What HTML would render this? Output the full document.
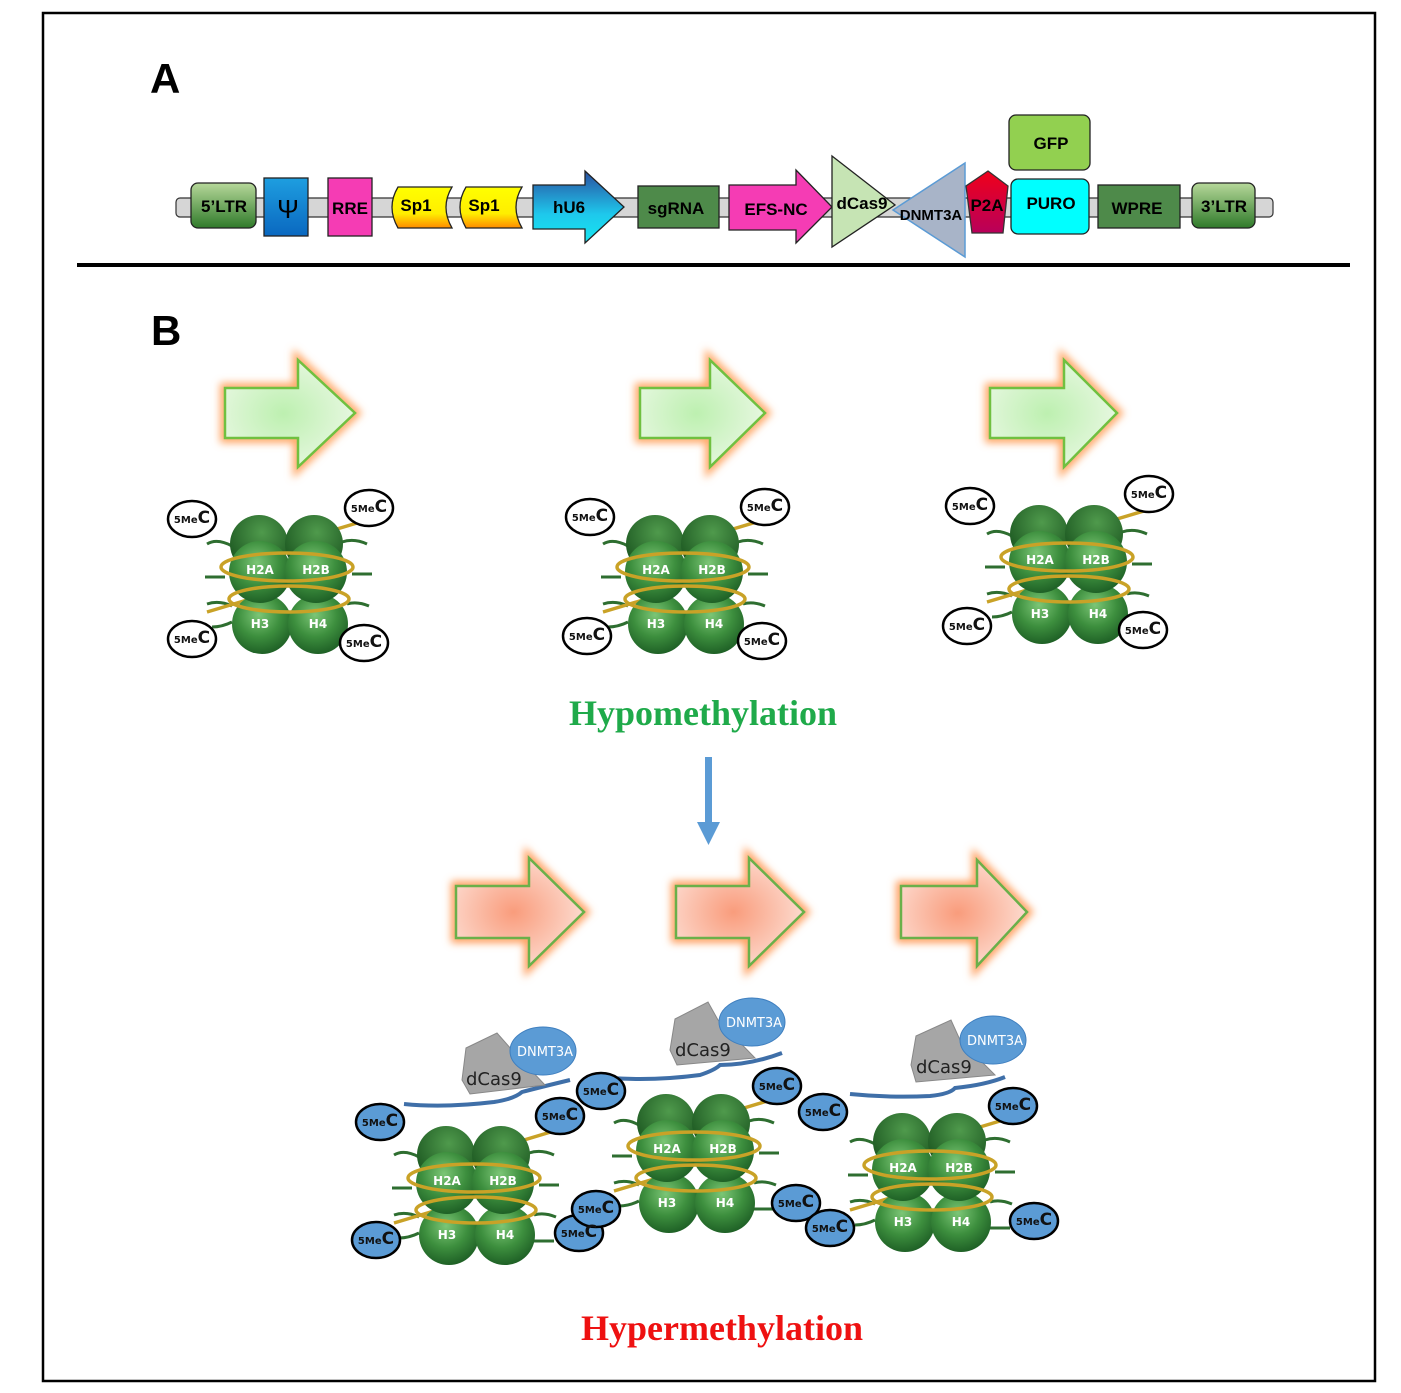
<!DOCTYPE html>
<html><head><meta charset="utf-8"><style>
html,body{margin:0;padding:0;background:#fff}
svg{display:block}
</style></head><body>
<svg width="1401" height="1393" viewBox="0 0 1401 1393" xmlns="http://www.w3.org/2000/svg" font-family="Liberation Sans, sans-serif">
<defs>
<radialGradient id="sph" cx="0.45" cy="0.35" r="0.65"><stop offset="0" stop-color="#7cc676"/><stop offset="0.55" stop-color="#3d8f3e"/><stop offset="1" stop-color="#1f6126"/></radialGradient>
<radialGradient id="sphd" cx="0.55" cy="0.3" r="0.7"><stop offset="0" stop-color="#4f9a4c"/><stop offset="1" stop-color="#1b5620"/></radialGradient>
<radialGradient id="ga" cx="0.45" cy="0.5" r="0.6"><stop offset="0" stop-color="#bdf0b0"/><stop offset="1" stop-color="#eaf8e4"/></radialGradient>
<radialGradient id="ra" cx="0.45" cy="0.5" r="0.6"><stop offset="0" stop-color="#f99c7c"/><stop offset="1" stop-color="#fde0d6"/></radialGradient>
<filter id="glow" x="-30%" y="-30%" width="160%" height="160%"><feGaussianBlur stdDeviation="4"/></filter>
<linearGradient id="ltr" x1="0" y1="0" x2="0" y2="1"><stop offset="0" stop-color="#b6d89a"/><stop offset="1" stop-color="#2f7a2a"/></linearGradient>
<linearGradient id="psi" x1="0" y1="0" x2="0" y2="1"><stop offset="0" stop-color="#1e9ee0"/><stop offset="1" stop-color="#0a68c0"/></linearGradient>
<linearGradient id="sp" x1="0" y1="0" x2="0" y2="1"><stop offset="0" stop-color="#ffff00"/><stop offset="0.65" stop-color="#ffee00"/><stop offset="1" stop-color="#ff8a00"/></linearGradient>
<linearGradient id="hu6" x1="0" y1="0" x2="0" y2="1"><stop offset="0" stop-color="#2a4fa0"/><stop offset="0.6" stop-color="#1ec8ec"/><stop offset="1" stop-color="#16e6f0"/></linearGradient>
<linearGradient id="p2a" x1="0" y1="0" x2="0" y2="1"><stop offset="0" stop-color="#f0001a"/><stop offset="1" stop-color="#b8005a"/></linearGradient>
</defs>

<rect x="43" y="13" width="1332" height="1368" fill="none" stroke="#000" stroke-width="2.5"/>
<text x="150" y="93" font-size="42" font-weight="bold">A</text>
<text x="151" y="345" font-size="42" font-weight="bold">B</text>
<line x1="77" y1="265" x2="1350" y2="265" stroke="#000" stroke-width="4"/>

<rect x="176" y="198" width="1097" height="19" rx="4" fill="#d6d6d6" stroke="#333" stroke-width="1.2"/>
<g font-weight="bold" font-size="17" text-anchor="middle" stroke-width="1.3">
<rect x="191" y="183" width="65" height="45" rx="7" fill="url(#ltr)" stroke="#222"/><text x="224" y="212">5’LTR</text>
<rect x="264" y="178" width="44" height="58" fill="url(#psi)" stroke="#222"/><text x="288" y="218" font-size="26" font-weight="normal">Ψ</text>
<rect x="328" y="178" width="44" height="58" fill="#f53cb4" stroke="#222"/><text x="350" y="214">RRE</text>
<path d="M398,187 H452 Q440,207 452,228 H398 Q386,207 398,187Z" fill="url(#sp)" stroke="#222"/><text x="416" y="211">Sp1</text>
<path d="M466,187 H522 Q510,207 522,228 H466 Q454,207 466,187Z" fill="url(#sp)" stroke="#222"/><text x="484" y="211">Sp1</text>
<path d="M533,185 H585 V171 L624,207 L585,243 V229 H533Z" fill="url(#hu6)" stroke="#222"/><text x="569" y="213">hU6</text>
<rect x="638" y="186" width="81" height="42" fill="#4e8a4a" stroke="#222"/><text x="676" y="214">sgRNA</text>
<path d="M729,185 H796 V170 L832,207 L796,243 V230 H729Z" fill="#f53cb4" stroke="#222"/><text x="776" y="215">EFS-NC</text>
<path d="M832,156 L895,205 L832,247Z" fill="#c6e4b4" stroke="#222"/><text x="862" y="209">dCas9</text>
<path d="M965,163 L893,210 L965,257Z" fill="#a8b4c8" stroke="#5b9bd5" stroke-width="1.5"/><text x="931" y="220" font-size="15">DNMT3A</text>
<path d="M988,171 L1008,186 L1003,233 L972,233 L966,186Z" fill="url(#p2a)" stroke="#333"/><text x="987" y="211">P2A</text>
<rect x="1011" y="179" width="78" height="55" rx="7" fill="#00ffff" stroke="#222"/><text x="1051" y="209">PURO</text>
<rect x="1009" y="115" width="81" height="55" rx="7" fill="#92d050" stroke="#222"/><text x="1051" y="149">GFP</text>
<rect x="1098" y="185" width="82" height="43" fill="#4e8a4a" stroke="#222"/><text x="1137" y="214">WPRE</text>
<rect x="1192" y="183" width="63" height="45" rx="7" fill="url(#ltr)" stroke="#222"/><text x="1224" y="212">3’LTR</text>
</g>

<g>
<path d="M225,388 H298 V360 L355,413 L298,467 V438 H225Z" fill="none" stroke="#ffa868" stroke-width="10" filter="url(#glow)"/>
<path d="M225,388 H298 V360 L355,413 L298,467 V438 H225Z" fill="url(#ga)" stroke="#70c040" stroke-width="2.5"/>
<path d="M640,388 H710 V360 L765,413 L710,467 V438 H640Z" fill="none" stroke="#ffa868" stroke-width="10" filter="url(#glow)"/>
<path d="M640,388 H710 V360 L765,413 L710,467 V438 H640Z" fill="url(#ga)" stroke="#70c040" stroke-width="2.5"/>
<path d="M990,388 H1064 V360 L1117,413 L1064,467 V438 H990Z" fill="none" stroke="#ffa868" stroke-width="10" filter="url(#glow)"/>
<path d="M990,388 H1064 V360 L1117,413 L1064,467 V438 H990Z" fill="url(#ga)" stroke="#70c040" stroke-width="2.5"/>
</g>
<g>
<path d="M456,886 H529 V858 L584,912 L529,966 V938 H456Z" fill="none" stroke="#ffa060" stroke-width="10" filter="url(#glow)"/>
<path d="M456,886 H529 V858 L584,912 L529,966 V938 H456Z" fill="url(#ra)" stroke="#6ab04a" stroke-width="2.5"/>
<path d="M676,886 H749 V858 L804,912 L749,966 V938 H676Z" fill="none" stroke="#ffa060" stroke-width="10" filter="url(#glow)"/>
<path d="M676,886 H749 V858 L804,912 L749,966 V938 H676Z" fill="url(#ra)" stroke="#6ab04a" stroke-width="2.5"/>
<path d="M901,886 H977 V860 L1027,912 L977,966 V938 H901Z" fill="none" stroke="#ffa060" stroke-width="10" filter="url(#glow)"/>
<path d="M901,886 H977 V860 L1027,912 L977,966 V938 H901Z" fill="url(#ra)" stroke="#6ab04a" stroke-width="2.5"/>
</g>

<text x="703" y="725" font-family="Liberation Serif, serif" font-size="36" font-weight="bold" fill="#1faa4a" text-anchor="middle">Hypomethylation</text>
<text x="722" y="1340" font-family="Liberation Serif, serif" font-size="36" font-weight="bold" fill="#ee1111" text-anchor="middle">Hypermethylation</text>
<rect x="705" y="757" width="7" height="66" fill="#5b9bd5"/>
<path d="M697,822 H720 L708.5,845Z" fill="#5b9bd5"/>

<g font-family="DejaVu Sans, sans-serif" font-weight="bold" font-size="12" fill="#fff" text-anchor="middle">
<g transform="translate(287,582)">
<path d="M-80,-38 q10,-6 25,2 M55,-40 q12,-4 25,2 M-82,-5 h20 M65,-8 h20 M-80,22 q12,-4 25,2 M60,22 q10,-3 22,2 M-75,45 q10,0 20,-5 M60,48 h20" stroke="#2e6e30" stroke-width="3" fill="none"/>
<path d="M-80,30 L-40,18 M40,-50 L80,-62" stroke="#c9a227" stroke-width="3.5"/>
<circle cx="-28" cy="-38" r="29" fill="url(#sphd)"/><circle cx="27" cy="-38" r="29" fill="url(#sphd)"/>
<circle cx="-25" cy="42" r="30" fill="url(#sph)"/><circle cx="31" cy="42" r="30" fill="url(#sph)"/>
<circle cx="-27" cy="-10" r="31" fill="url(#sph)"/><circle cx="29" cy="-10" r="31" fill="url(#sph)"/>
<ellipse cx="0" cy="-15" rx="66" ry="14" fill="none" stroke="#c9a227" stroke-width="3.5"/>
<ellipse cx="2" cy="17" rx="60" ry="13" fill="none" stroke="#c9a227" stroke-width="3.5"/>
<text x="-27" y="-8">H2A</text><text x="29" y="-8">H2B</text><text x="-27" y="46">H3</text><text x="31" y="46">H4</text>
</g>
<g transform="translate(683,582)">
<path d="M-80,-38 q10,-6 25,2 M55,-40 q12,-4 25,2 M-82,-5 h20 M65,-8 h20 M-80,22 q12,-4 25,2 M60,22 q10,-3 22,2 M-75,45 q10,0 20,-5 M60,48 h20" stroke="#2e6e30" stroke-width="3" fill="none"/>
<path d="M-80,30 L-40,18 M40,-50 L80,-62" stroke="#c9a227" stroke-width="3.5"/>
<circle cx="-28" cy="-38" r="29" fill="url(#sphd)"/><circle cx="27" cy="-38" r="29" fill="url(#sphd)"/>
<circle cx="-25" cy="42" r="30" fill="url(#sph)"/><circle cx="31" cy="42" r="30" fill="url(#sph)"/>
<circle cx="-27" cy="-10" r="31" fill="url(#sph)"/><circle cx="29" cy="-10" r="31" fill="url(#sph)"/>
<ellipse cx="0" cy="-15" rx="66" ry="14" fill="none" stroke="#c9a227" stroke-width="3.5"/>
<ellipse cx="2" cy="17" rx="60" ry="13" fill="none" stroke="#c9a227" stroke-width="3.5"/>
<text x="-27" y="-8">H2A</text><text x="29" y="-8">H2B</text><text x="-27" y="46">H3</text><text x="31" y="46">H4</text>
</g>
<g transform="translate(1067,572)">
<path d="M-80,-38 q10,-6 25,2 M55,-40 q12,-4 25,2 M-82,-5 h20 M65,-8 h20 M-80,22 q12,-4 25,2 M60,22 q10,-3 22,2 M-75,45 q10,0 20,-5 M60,48 h20" stroke="#2e6e30" stroke-width="3" fill="none"/>
<path d="M-80,30 L-40,18 M40,-50 L80,-62" stroke="#c9a227" stroke-width="3.5"/>
<circle cx="-28" cy="-38" r="29" fill="url(#sphd)"/><circle cx="27" cy="-38" r="29" fill="url(#sphd)"/>
<circle cx="-25" cy="42" r="30" fill="url(#sph)"/><circle cx="31" cy="42" r="30" fill="url(#sph)"/>
<circle cx="-27" cy="-10" r="31" fill="url(#sph)"/><circle cx="29" cy="-10" r="31" fill="url(#sph)"/>
<ellipse cx="0" cy="-15" rx="66" ry="14" fill="none" stroke="#c9a227" stroke-width="3.5"/>
<ellipse cx="2" cy="17" rx="60" ry="13" fill="none" stroke="#c9a227" stroke-width="3.5"/>
<text x="-27" y="-8">H2A</text><text x="29" y="-8">H2B</text><text x="-27" y="46">H3</text><text x="31" y="46">H4</text>
</g>
<g transform="translate(474,1193)">
<path d="M-80,-38 q10,-6 25,2 M55,-40 q12,-4 25,2 M-82,-5 h20 M65,-8 h20 M-80,22 q12,-4 25,2 M60,22 q10,-3 22,2 M-75,45 q10,0 20,-5 M60,48 h20" stroke="#2e6e30" stroke-width="3" fill="none"/>
<path d="M-80,30 L-40,18 M40,-50 L80,-62" stroke="#c9a227" stroke-width="3.5"/>
<circle cx="-28" cy="-38" r="29" fill="url(#sphd)"/><circle cx="27" cy="-38" r="29" fill="url(#sphd)"/>
<circle cx="-25" cy="42" r="30" fill="url(#sph)"/><circle cx="31" cy="42" r="30" fill="url(#sph)"/>
<circle cx="-27" cy="-10" r="31" fill="url(#sph)"/><circle cx="29" cy="-10" r="31" fill="url(#sph)"/>
<ellipse cx="0" cy="-15" rx="66" ry="14" fill="none" stroke="#c9a227" stroke-width="3.5"/>
<ellipse cx="2" cy="17" rx="60" ry="13" fill="none" stroke="#c9a227" stroke-width="3.5"/>
<text x="-27" y="-8">H2A</text><text x="29" y="-8">H2B</text><text x="-27" y="46">H3</text><text x="31" y="46">H4</text>
</g>
<g transform="translate(694,1161)">
<path d="M-80,-38 q10,-6 25,2 M55,-40 q12,-4 25,2 M-82,-5 h20 M65,-8 h20 M-80,22 q12,-4 25,2 M60,22 q10,-3 22,2 M-75,45 q10,0 20,-5 M60,48 h20" stroke="#2e6e30" stroke-width="3" fill="none"/>
<path d="M-80,30 L-40,18 M40,-50 L80,-62" stroke="#c9a227" stroke-width="3.5"/>
<circle cx="-28" cy="-38" r="29" fill="url(#sphd)"/><circle cx="27" cy="-38" r="29" fill="url(#sphd)"/>
<circle cx="-25" cy="42" r="30" fill="url(#sph)"/><circle cx="31" cy="42" r="30" fill="url(#sph)"/>
<circle cx="-27" cy="-10" r="31" fill="url(#sph)"/><circle cx="29" cy="-10" r="31" fill="url(#sph)"/>
<ellipse cx="0" cy="-15" rx="66" ry="14" fill="none" stroke="#c9a227" stroke-width="3.5"/>
<ellipse cx="2" cy="17" rx="60" ry="13" fill="none" stroke="#c9a227" stroke-width="3.5"/>
<text x="-27" y="-8">H2A</text><text x="29" y="-8">H2B</text><text x="-27" y="46">H3</text><text x="31" y="46">H4</text>
</g>
<g transform="translate(930,1180)">
<path d="M-80,-38 q10,-6 25,2 M55,-40 q12,-4 25,2 M-82,-5 h20 M65,-8 h20 M-80,22 q12,-4 25,2 M60,22 q10,-3 22,2 M-75,45 q10,0 20,-5 M60,48 h20" stroke="#2e6e30" stroke-width="3" fill="none"/>
<path d="M-80,30 L-40,18 M40,-50 L80,-62" stroke="#c9a227" stroke-width="3.5"/>
<circle cx="-28" cy="-38" r="29" fill="url(#sphd)"/><circle cx="27" cy="-38" r="29" fill="url(#sphd)"/>
<circle cx="-25" cy="42" r="30" fill="url(#sph)"/><circle cx="31" cy="42" r="30" fill="url(#sph)"/>
<circle cx="-27" cy="-10" r="31" fill="url(#sph)"/><circle cx="29" cy="-10" r="31" fill="url(#sph)"/>
<ellipse cx="0" cy="-15" rx="66" ry="14" fill="none" stroke="#c9a227" stroke-width="3.5"/>
<ellipse cx="2" cy="17" rx="60" ry="13" fill="none" stroke="#c9a227" stroke-width="3.5"/>
<text x="-27" y="-8">H2A</text><text x="29" y="-8">H2B</text><text x="-27" y="46">H3</text><text x="31" y="46">H4</text>
</g>
</g>

<g font-family="DejaVu Sans, sans-serif">
<path d="M404,1104 q40,4 90,-2 q20,-3 28,-10 q15,-4 48,-12" stroke="#3f6fa8" stroke-width="4" fill="none"/>
<path d="M466,1048 L497,1033 L512,1050 L545,1085 L470,1094 L462,1080Z" fill="#a6a6a6" stroke="#888"/>
<ellipse cx="543" cy="1051" rx="33" ry="24" fill="#5b9bd5" stroke="#3f7fbf"/>
<text x="545" y="1056" font-size="13" fill="#fff" text-anchor="middle">DNMT3A</text>
<text x="466" y="1085" font-size="18" fill="#222">dCas9</text>

<path d="M610,1078 q45,3 90,-3 q15,-5 20,-10 q30,0 62,-12" stroke="#3f6fa8" stroke-width="4" fill="none"/>
<path d="M675,1019 L708,1002 L718,1020 L755,1058 L677,1065 L670,1050Z" fill="#a6a6a6" stroke="#888"/>
<ellipse cx="752" cy="1022" rx="33" ry="24" fill="#5b9bd5" stroke="#3f7fbf"/>
<text x="754" y="1027" font-size="13" fill="#fff" text-anchor="middle">DNMT3A</text>
<text x="675" y="1056" font-size="18" fill="#222">dCas9</text>

<path d="M850,1094 q40,4 80,2 q20,-2 25,-8 q30,-3 50,-11" stroke="#3f6fa8" stroke-width="4" fill="none"/>
<path d="M916,1036 L951,1020 L960,1040 L995,1075 L916,1082 L911,1065Z" fill="#a6a6a6" stroke="#888"/>
<ellipse cx="993" cy="1040" rx="33" ry="24" fill="#5b9bd5" stroke="#3f7fbf"/>
<text x="995" y="1045" font-size="13" fill="#fff" text-anchor="middle">DNMT3A</text>
<text x="916" y="1073" font-size="18" fill="#222">dCas9</text>
</g>

<g stroke="#000" stroke-width="2.5">
<g fill="#fff">
<ellipse cx="192" cy="519" rx="24" ry="18"/><ellipse cx="369" cy="508" rx="24" ry="18"/><ellipse cx="192" cy="639" rx="24" ry="18"/><ellipse cx="364" cy="643" rx="24" ry="18"/>
<ellipse cx="590" cy="517" rx="24" ry="18"/><ellipse cx="765" cy="507" rx="24" ry="18"/><ellipse cx="587" cy="636" rx="24" ry="18"/><ellipse cx="762" cy="641" rx="24" ry="18"/>
<ellipse cx="970" cy="506" rx="24" ry="18"/><ellipse cx="1149" cy="494" rx="24" ry="18"/><ellipse cx="967" cy="626" rx="24" ry="18"/><ellipse cx="1143" cy="630" rx="24" ry="18"/>
</g>
<g fill="#5b9bd5">
<ellipse cx="380" cy="1122" rx="24" ry="18"/><ellipse cx="376" cy="1240" rx="24" ry="18"/><ellipse cx="560" cy="1116" rx="24" ry="18"/><ellipse cx="601" cy="1091" rx="24" ry="18"/>
<ellipse cx="579" cy="1233" rx="24" ry="18"/><ellipse cx="596" cy="1209" rx="24" ry="18"/><ellipse cx="777" cy="1086" rx="24" ry="18"/><ellipse cx="823" cy="1112" rx="24" ry="18"/>
<ellipse cx="796" cy="1203" rx="24" ry="18"/><ellipse cx="830" cy="1228" rx="24" ry="18"/><ellipse cx="1013" cy="1106" rx="24" ry="18"/><ellipse cx="1034" cy="1221" rx="24" ry="18"/>
</g>
</g>
<g font-family="DejaVu Sans, sans-serif" font-weight="bold" fill="#111" text-anchor="middle">
<text x="192" y="523" font-size="10">5Me<tspan font-size="17">C</tspan></text>
<text x="369" y="512" font-size="10">5Me<tspan font-size="17">C</tspan></text>
<text x="192" y="643" font-size="10">5Me<tspan font-size="17">C</tspan></text>
<text x="364" y="647" font-size="10">5Me<tspan font-size="17">C</tspan></text>
<text x="590" y="521" font-size="10">5Me<tspan font-size="17">C</tspan></text>
<text x="765" y="511" font-size="10">5Me<tspan font-size="17">C</tspan></text>
<text x="587" y="640" font-size="10">5Me<tspan font-size="17">C</tspan></text>
<text x="762" y="645" font-size="10">5Me<tspan font-size="17">C</tspan></text>
<text x="970" y="510" font-size="10">5Me<tspan font-size="17">C</tspan></text>
<text x="1149" y="498" font-size="10">5Me<tspan font-size="17">C</tspan></text>
<text x="967" y="630" font-size="10">5Me<tspan font-size="17">C</tspan></text>
<text x="1143" y="634" font-size="10">5Me<tspan font-size="17">C</tspan></text>
<text x="380" y="1126" font-size="10">5Me<tspan font-size="17">C</tspan></text>
<text x="376" y="1244" font-size="10">5Me<tspan font-size="17">C</tspan></text>
<text x="560" y="1120" font-size="10">5Me<tspan font-size="17">C</tspan></text>
<text x="601" y="1095" font-size="10">5Me<tspan font-size="17">C</tspan></text>
<text x="579" y="1237" font-size="10">5Me<tspan font-size="17">C</tspan></text>
<text x="596" y="1213" font-size="10">5Me<tspan font-size="17">C</tspan></text>
<text x="777" y="1090" font-size="10">5Me<tspan font-size="17">C</tspan></text>
<text x="823" y="1116" font-size="10">5Me<tspan font-size="17">C</tspan></text>
<text x="796" y="1207" font-size="10">5Me<tspan font-size="17">C</tspan></text>
<text x="830" y="1232" font-size="10">5Me<tspan font-size="17">C</tspan></text>
<text x="1013" y="1110" font-size="10">5Me<tspan font-size="17">C</tspan></text>
<text x="1034" y="1225" font-size="10">5Me<tspan font-size="17">C</tspan></text>
</g>
</svg>
</body></html>
